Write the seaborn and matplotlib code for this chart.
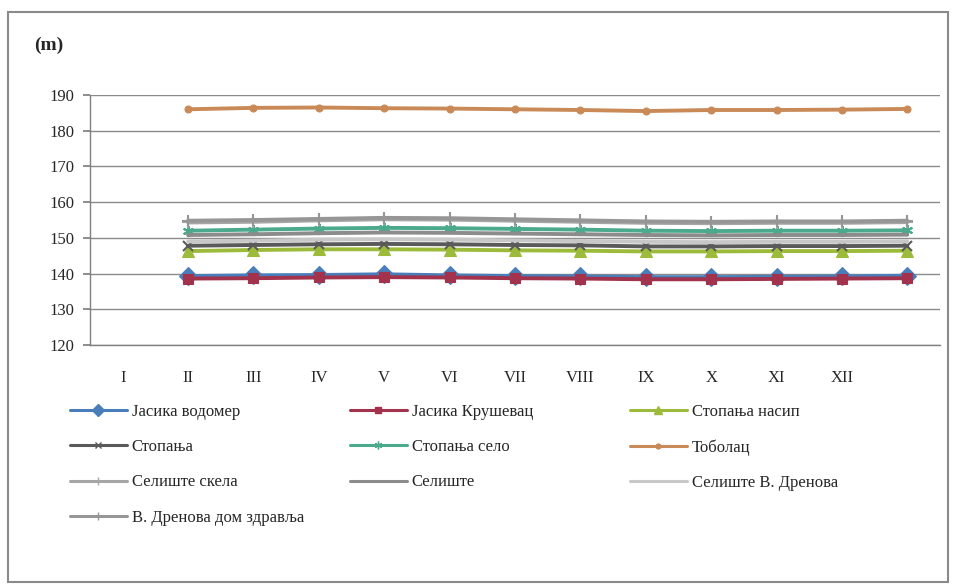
import numpy as np
import pandas as pd
import seaborn as sns
import matplotlib.pyplot as plt
from matplotlib.lines import Line2D
from matplotlib.patches import Rectangle

sns.set_theme(style="white")
plt.rcParams['font.family'] = ['Liberation Serif', 'DejaVu Serif']

months = ["I", "II", "III", "IV", "V", "VI", "VII", "VIII", "IX", "X", "XI", "XII"]

jasika_vodomer = [139.3, 139.5, 139.6, 139.8, 139.5, 139.3, 139.2, 139.0, 139.0, 139.1, 139.2, 139.4]
jasika_krusevac = [138.6, 138.7, 138.9, 139.0, 138.9, 138.7, 138.6, 138.4, 138.4, 138.5, 138.6, 138.7]
stopanja_nasip = [146.3, 146.6, 146.8, 146.8, 146.7, 146.5, 146.4, 146.2, 146.2, 146.3, 146.3, 146.4]
stopanja = [147.8, 148.0, 148.2, 148.3, 148.2, 148.0, 147.9, 147.6, 147.6, 147.7, 147.7, 147.8]
stopanja_selo = [152.0, 152.3, 152.6, 152.8, 152.7, 152.5, 152.3, 152.0, 151.9, 152.0, 152.0, 152.1]
tobolac = [186.0, 186.4, 186.5, 186.3, 186.2, 186.0, 185.8, 185.5, 185.8, 185.8, 185.9, 186.1]
seliste_skela = [154.3, 154.5, 154.9, 155.2, 155.1, 154.8, 154.5, 154.2, 154.1, 154.2, 154.2, 154.4]
seliste = [150.8, 151.0, 151.3, 151.5, 151.4, 151.2, 151.0, 150.8, 150.7, 150.8, 150.8, 150.9]
seliste_vdrenova = [149.0, 149.2, 149.5, 149.6, 149.5, 149.3, 149.1, 148.9, 148.8, 148.9, 148.9, 149.0]
vdrenova_dz = [154.8, 155.0, 155.3, 155.6, 155.5, 155.2, 154.9, 154.6, 154.5, 154.6, 154.6, 154.8]

series = [
    ("Јасика водомер", jasika_vodomer, "#4A7EBB", "D", 9),
    ("Јасика Крушевац", jasika_krusevac, "#A3324C", "s", 7),
    ("Стопања насип", stopanja_nasip, "#9DBB3A", "^", 9),
    ("Стопања", stopanja, "#5A5A5A", "x", 7),
    ("Стопања село", stopanja_selo, "#4BAA8C", (6, 2, 0), 8),
    ("Тоболац", tobolac, "#C98A58", "o", 5),
    ("Селиште скела", seliste_skela, "#A6A6A6", "+", 8),
    ("Селиште", seliste, "#8C8C8C", None, 0),
    ("Селиште В. Дренова", seliste_vdrenova, "#C8C8C8", None, 0),
    ("В. Дренова дом здравља", vdrenova_dz, "#969696", "+", 8),
]

W, H = 956, 584
fig = plt.figure(figsize=(W / 100, H / 100), dpi=100)
ax = fig.add_axes([90 / W, 1 - 345 / H, 850 / W, 250 / H])

n_cat = len(months) + 1
handles = []
for name, vals, col, mk, ms in series:
    # data sits one category to the right of the month labels, as in the original
    xs = np.arange(len(vals)) + 1.5
    sns.lineplot(x=xs, y=vals, ax=ax, color=col, linewidth=2.8,
                 marker=mk if mk else "", markersize=ms,
                 markeredgecolor=col, markeredgewidth=1.5 if mk in ("x", "+", (6, 2, 0)) else 0.8,
                 legend=False)
    handles.append(Line2D([], [], color=col, linewidth=2.2, marker=mk if mk else "",
                          markersize=ms * 0.7, markeredgecolor=col, label=name))

ax.set_xlim(0, n_cat)
ax.set_ylim(120, 190)
ax.set_yticks(np.arange(120, 191, 10))
ax.set_xticks(np.arange(len(months)) + 0.5)
ax.set_xticklabels(months)
ax.set_xticks(np.arange(n_cat + 1), minor=True)
ax.tick_params(axis="x", which="major", length=0, pad=18, labelsize=12)
ax.tick_params(axis="x", which="minor", length=6, direction="inout", color="#808080", width=1)
ax.tick_params(axis="y", length=5, direction="out", color="#808080", pad=6, labelsize=12, left=True)
ax.grid(axis="y", color="#8a8a8a", linewidth=1)
ax.grid(axis="x", visible=False)
for s in ["top", "right"]:
    ax.spines[s].set_visible(False)
for s in ["left", "bottom"]:
    ax.spines[s].set_color("#808080")
    ax.spines[s].set_linewidth(1)
ax.set_xlabel("")
ax.set_ylabel("")

fig.text(34 / W, 1 - 45 / H, "(m)", fontsize=14, fontweight="bold", va="center", ha="left")

cols = [handles[0::3], handles[1::3], handles[2::3]]
col_x = [70, 350, 630]
for hs, cx in zip(cols, col_x):
    leg = fig.legend(handles=hs, loc="upper left", bbox_to_anchor=(cx / W, 1 - 404 / H),
                     frameon=False, fontsize=12, handlelength=3.4, handletextpad=0.3,
                     labelspacing=1.15, borderaxespad=0, borderpad=0)

fig.patches.append(Rectangle((8 / W, 2 / H), 940 / W, 570 / H, transform=fig.transFigure,
                             fill=False, edgecolor="#8a8a8a", linewidth=1.5))

fig.savefig("out.png", dpi=100)
